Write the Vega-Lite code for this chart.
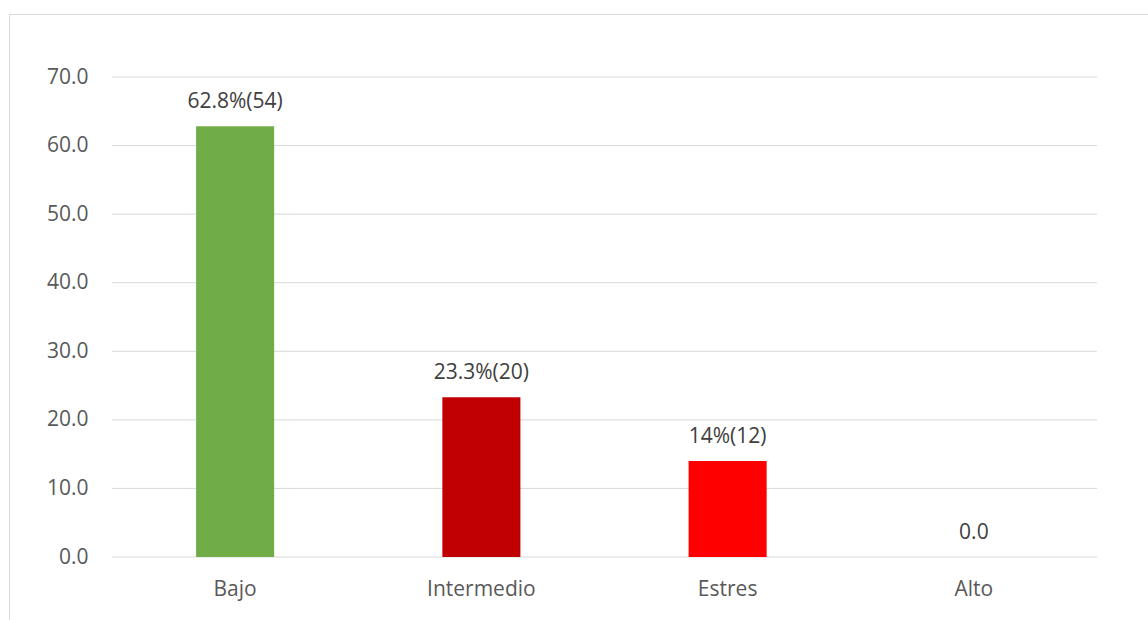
{
  "$schema": "https://vega.github.io/schema/vega-lite/v6.json",
  "autosize": {"type": "none"},
  "padding": {"left": 9, "top": 14, "right": 0, "bottom": 0},
  "width": 1139,
  "height": 606,
  "background": "#FFFFFF",
  "config": {
    "view": {"stroke": "#D9D9D9", "strokeWidth": 1},
    "font": "Open Sans",
    "axis": {"labelFont": "Open Sans", "labelFontSize": 21, "labelColor": "#595959", "domain": false, "ticks": false, "grid": false, "title": null},
    "text": {"font": "Open Sans", "fontSize": 21, "color": "#404040"}
  },
  "data": {
    "values": [
      {"Category": "Bajo", "Value": 62.8, "Label": "62.8%(54)"},
      {"Category": "Intermedio", "Value": 23.3, "Label": "23.3%(20)"},
      {"Category": "Estres", "Value": 14, "Label": "14%(12)"},
      {"Category": "Alto", "Value": 0, "Label": "0.0"}
    ]
  },
  "resolve": {"scale": {"x": "independent"}, "axis": {"x": "independent"}},
  "layer": [
    {
      "data": {"values": [{"g": 0}, {"g": 10}, {"g": 20}, {"g": 30}, {"g": 40}, {"g": 50}, {"g": 60}, {"g": 70}]},
      "mark": {"type": "rule", "color": "#D9D9D9", "strokeWidth": 1},
      "encoding": {
        "x": {"datum": 0, "type": "quantitative", "scale": {"domain": [0, 1], "range": [103, 1088], "nice": false, "zero": false}, "axis": null},
        "x2": {"datum": 1},
        "y": {"field": "g", "type": "quantitative", "scale": {"domain": [0, 70], "range": [543, 63], "nice": false}}
      }
    },
    {
      "mark": {"type": "bar"},
      "encoding": {
        "x": {"field": "Category", "type": "nominal", "sort": null,
          "scale": {"domain": ["Bajo", "Intermedio", "Estres", "Alto"], "range": [103, 1088], "paddingInner": 0.683, "paddingOuter": 0.3415},
          "axis": {"labelAngle": 0, "offset": -31, "labelPadding": 0, "labelBaseline": "middle"}},
        "y": {"field": "Value", "type": "quantitative",
          "scale": {"domain": [0, 70], "range": [543, 63], "nice": false},
          "axis": {"values": [0, 10, 20, 30, 40, 50, 60, 70], "format": ".1f", "offset": -79, "labelPadding": 0}},
        "color": {"field": "Category", "type": "nominal",
          "scale": {"domain": ["Bajo", "Intermedio", "Estres", "Alto"], "range": ["#70AD47", "#C00000", "#FF0000", "#A5A5A5"]},
          "legend": null}
      }
    },
    {
      "mark": {"type": "text", "baseline": "middle", "dy": -24},
      "encoding": {
        "x": {"field": "Category", "type": "nominal", "sort": null,
          "scale": {"domain": ["Bajo", "Intermedio", "Estres", "Alto"], "range": [103, 1088], "paddingInner": 0.683, "paddingOuter": 0.3415},
          "axis": null},
        "y": {"field": "Value", "type": "quantitative", "scale": {"domain": [0, 70], "range": [543, 63], "nice": false}},
        "text": {"field": "Label"}
      }
    }
  ]
}
